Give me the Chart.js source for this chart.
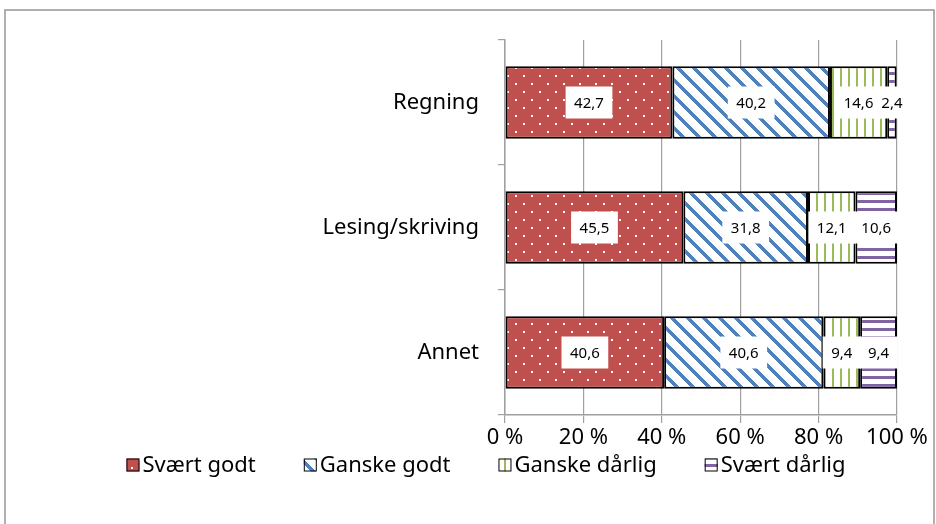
<!DOCTYPE html>
<html>
<head>
<meta charset="utf-8">
<script src="https://cdn.jsdelivr.net/npm/chart.js@4/dist/chart.umd.min.js"></script>
<style>
  body { margin: 0; background: #fff; }
</style>
</head>
<body>
<canvas id="chart" width="936" height="524"></canvas>
<script>
// data
const categories = ['Regning', 'Lesing/skriving', 'Annet'];
const seriesNames = ['Svært godt', 'Ganske godt', 'Ganske dårlig', 'Svært dårlig'];
const sværtGodt = [42.7, 45.5, 40.6];
const ganskeGodt = [40.2, 31.8, 40.6];
const ganskeDårlig = [14.6, 12.1, 9.4];
const sværtDårlig = [2.4, 10.6, 9.4];
const xTickLabels = ['0 %', '20 %', '40 %', '60 %', '80 %', '100 %'];

const FONT = '"Noto Sans", "Open Sans", sans-serif';

// Excel-like fill patterns
function makePattern(w, h, paint) {
  const c = document.createElement('canvas');
  c.width = w; c.height = h;
  const g = c.getContext('2d');
  paint(g, w, h);
  return g.createPattern(c, 'repeat');
}

const ctx = document.getElementById('chart').getContext('2d');

const dotsRed = makePattern(16, 16, (g, w, h) => {
  g.fillStyle = '#C0504D';
  g.fillRect(0, 0, w, h);
  g.fillStyle = '#ffffff';
  g.fillRect(3, 3, 2, 2);
  g.fillRect(11, 11, 2, 2);
});

const diagBlue = makePattern(16, 16, (g, w, h) => {
  g.fillStyle = '#ffffff';
  g.fillRect(0, 0, w, h);
  g.fillStyle = '#4F81BD';
  for (let y = 0; y < h; y++) {
    for (let x = 0; x < w; x++) {
      if ((((x - y) % 16) + 16) % 16 < 5) g.fillRect(x, y, 1, 1);
    }
  }
});

const vertGreen = makePattern(8, 8, (g, w, h) => {
  g.fillStyle = '#ffffff';
  g.fillRect(0, 0, w, h);
  g.fillStyle = '#9BBB59';
  g.fillRect(0, 0, 2, h);
});

const horizPurple = makePattern(8, 8, (g, w, h) => {
  g.fillStyle = '#ffffff';
  g.fillRect(0, 0, w, h);
  g.fillStyle = '#8064A2';
  g.fillRect(0, 0, w, 3);
});

const fills = [dotsRed, diagBlue, vertGreen, horizPurple];
const seriesData = [sværtGodt, ganskeGodt, ganskeDårlig, sværtDårlig];

// white page with the grey chart frame
const frame = {
  id: 'frame',
  beforeDraw(chart) {
    const c = chart.ctx;
    c.save();
    c.fillStyle = '#ffffff';
    c.fillRect(0, 0, chart.width, chart.height);
    c.strokeStyle = '#969696';
    c.lineWidth = 1.5;
    c.strokeRect(5, 10, 929, 530);
    c.restore();
  }
};

// value labels in white boxes, centred on each segment
const valueLabels = {
  id: 'valueLabels',
  afterDatasetsDraw(chart) {
    const c = chart.ctx;
    c.save();
    c.font = '15px ' + FONT;
    c.textAlign = 'center';
    c.textBaseline = 'middle';
    chart.data.datasets.forEach((ds, i) => {
      chart.getDatasetMeta(i).data.forEach((bar, j) => {
        const txt = ds.data[j].toFixed(1).replace('.', ',');
        const cx = (bar.x + bar.base) / 2;
        const tw = c.measureText(txt).width;
        const bw = tw + 17, bh = 32;
        c.fillStyle = '#ffffff';
        c.fillRect(cx - bw / 2, bar.y - bh / 2, bw, bh);
        c.fillStyle = '#000000';
        c.fillText(txt, cx, bar.y + 1);
      });
    });
    c.restore();
  }
};

// legend drawn like Excel: small patterned box, tight gap, text
const excelLegend = {
  id: 'excelLegend',
  afterDraw(chart) {
    const c = chart.ctx;
    c.save();
    c.font = '22px ' + FONT;
    c.textBaseline = 'middle';
    const box = 13, gap = 3, space = 48, y = 465;
    const items = chart.data.datasets.map(ds => ({
      ds, w: c.measureText(ds.label).width
    }));
    let total = items.reduce((s, it) => s + box + gap + it.w, 0) + space * (items.length - 1);
    let x = 486 - total / 2;
    items.forEach(it => {
      c.fillStyle = it.ds.backgroundColor;
      c.fillRect(x, y - box / 2, box, box);
      c.strokeStyle = '#000';
      c.lineWidth = 1;
      c.strokeRect(x + 0.5, y - box / 2 + 0.5, box - 1, box - 1);
      c.fillStyle = '#000';
      c.fillText(it.ds.label, x + box + gap, y + 1);
      x += box + gap + it.w + space;
    });
    c.restore();
  }
};

new Chart(ctx, {
  type: 'bar',
  data: {
    labels: categories,
    datasets: seriesNames.map((name, i) => ({
      label: name,
      data: seriesData[i],
      backgroundColor: fills[i],
      borderColor: '#000000',
      borderWidth: 2,
      borderSkipped: false,
      barPercentage: 0.58,
      categoryPercentage: 1
    }))
  },
  options: {
    indexAxis: 'y',
    responsive: false,
    animation: false,
    layout: { padding: { top: 40, right: 39, left: 0, bottom: 0 } },
    plugins: {
      legend: { display: false },
      tooltip: { enabled: false }
    },
    scales: {
      x: {
        stacked: true,
        min: 0,
        max: 100,
        ticks: {
          stepSize: 20,
          color: '#000',
          padding: 2,
          font: { family: FONT, size: 22 },
          callback: (v, i) => xTickLabels[i]
        },
        grid: { color: '#a0a0a0', lineWidth: 1.2, tickLength: 8 },
        border: { color: '#a0a0a0', width: 1.5 },
        afterFit: (s) => { s.height = 109; }
      },
      y: {
        stacked: true,
        offset: true,
        ticks: {
          color: '#000',
          padding: 19,
          font: { family: FONT, size: 22 }
        },
        grid: { offset: true, drawOnChartArea: false, color: '#a0a0a0', lineWidth: 1.2, tickLength: 7 },
        border: { color: '#a0a0a0', width: 1.5 },
        afterFit: (s) => { s.width = 505; }
      }
    }
  },
  plugins: [frame, valueLabels, excelLegend]
});
</script>
</body>
</html>
